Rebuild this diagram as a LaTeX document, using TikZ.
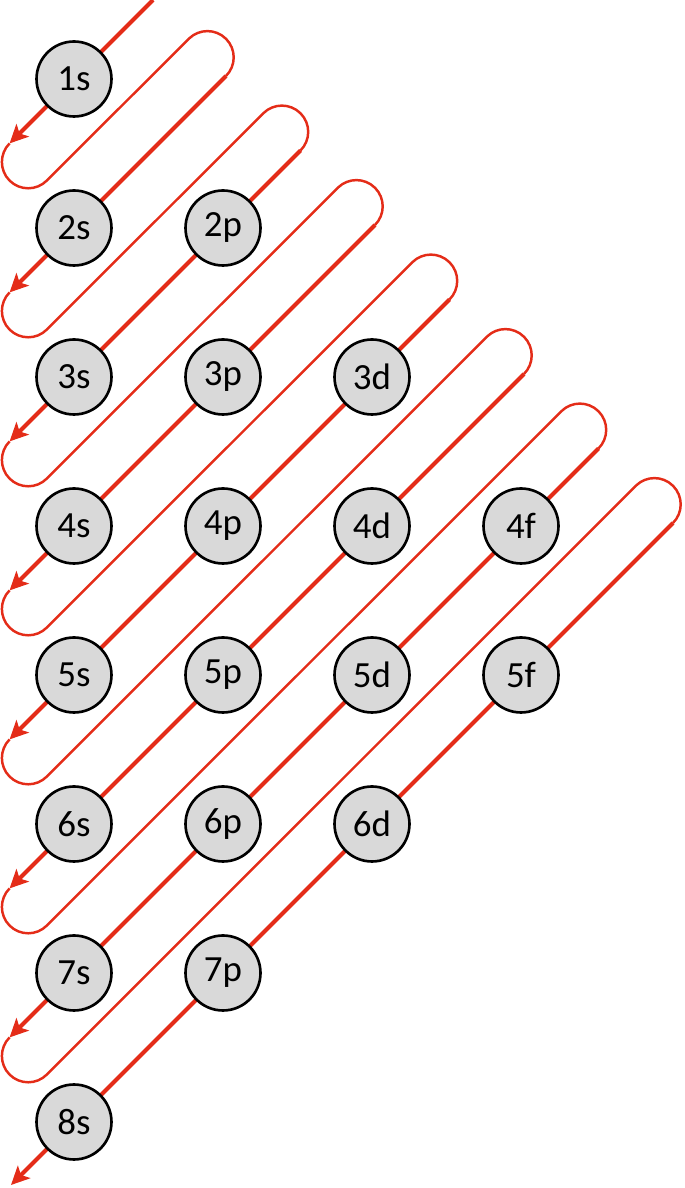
\documentclass[tikz,border=0pt]{standalone}
\usepackage{fontspec}
\setmainfont{Carlito}
\usetikzlibrary{arrows.meta,calc}
\definecolor{orbred}{RGB}{228,44,24}
\definecolor{orbgray}{RGB}{217,217,217}

\begin{document}
\begin{tikzpicture}[x=0.02cm,y=0.02cm,
    orb/.style={circle,draw=black,line width=1.5pt,fill=orbgray,
      minimum size=1.5cm,inner sep=0pt,font=\fontsize{21}{24}\selectfont},
    down/.style={draw=orbred,line width=2.4pt,
      -{Stealth[length=10.5pt,width=10pt,inset=2.5pt]}},
    turn/.style={draw=orbred,line width=1.4pt}]
  \useasboundingbox (0,0) rectangle (684,1188);
  % one diagonal per s shell
  \foreach \n in {1,...,8}
    \coordinate (s\n) at (74,{1109-149*(\n-1)});
  \foreach \k in {1,...,8}{
    \pgfmathsetmacro\p{77.5+74.5*(\k-1)}
    \coordinate (a\k) at ($(s\k)+(-64.4,-64.4)$);
    \coordinate (d\k) at ($(s\k)+(\p,\p)$);
    \coordinate (l\k) at ($(d\k)+(-37.2,37.2)$);
  }
  \coordinate (d1) at ($(s1)+(79,79)$);
  \coordinate (a8) at ($(s8)+(-63,-63)$);
  % the filling path
  \foreach \k [evaluate=\k as \j using int(\k+1)] in {1,...,7}{
    \draw[down] (d\k) -- (a\k);
    \draw[turn] (a\k) arc[start angle=135,end angle=315,radius=26.3]
      -- (l\j) arc[start angle=135,end angle=-45,radius=26.3];
  }
  \draw[down] (d8) -- (a8);
  % orbitals
  \foreach \n/\l/\t in {1/0/s,2/0/s,2/1/p,3/0/s,3/1/p,3/2/d,
      4/0/s,4/1/p,4/2/d,4/3/f,5/0/s,5/1/p,5/2/d,5/3/f,
      6/0/s,6/1/p,6/2/d,7/0/s,7/1/p,8/0/s}
    \node[orb] (\n\t) at ({74+149*\l},{1109-149*(\n-1)}) {\n\t};
\end{tikzpicture}
\end{document}
